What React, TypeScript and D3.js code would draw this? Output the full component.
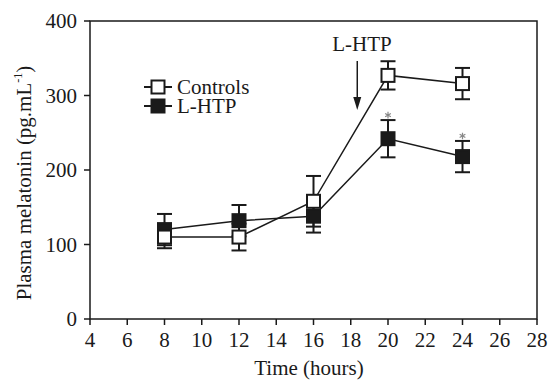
import React from "react";
import * as d3 from "d3";

const hours = [8, 12, 16, 20, 24];
const controlsMean = [110, 110, 158, 327, 316];
const controlsErr = [15, 18, 34, 19, 21];
const lhtpMean = [120, 132, 138, 242, 218];
const lhtpErr = [21, 21, 22, 25, 21];
const lhtpSignificant = [false, false, false, true, true];
const xTicks = [4, 6, 8, 10, 12, 14, 16, 18, 20, 22, 24, 26, 28];
const yTicks = [0, 100, 200, 300, 400];
const doseTime = 18.35;

const font = "'Liberation Serif', 'Times New Roman', serif";
const ink = "#1a1a1a";

const left = 90;
const right = 537;
const top = 21;
const bottom = 319;
const box = 15;

const ErrorBars = (props) => {
  const { means, errs, x, y } = props;
  return (
    <g stroke={ink} strokeWidth="2">
      {means.map((m, i) => {
        const cx = x(hours[i]);
        return (
          <g key={i}>
            <line x1={cx} x2={cx} y1={y(m - errs[i])} y2={y(m + errs[i])} />
            <line x1={cx - box / 2} x2={cx + box / 2} y1={y(m + errs[i])} y2={y(m + errs[i])} />
            <line x1={cx - box / 2} x2={cx + box / 2} y1={y(m - errs[i])} y2={y(m - errs[i])} />
          </g>
        );
      })}
    </g>
  );
};

const Squares = (props) => {
  const { means, fill, x, y } = props;
  return (
    <g>
      {means.map((m, i) => (
        <rect
          key={i}
          x={x(hours[i]) - (box - 2) / 2}
          y={y(m) - (box - 2) / 2}
          width={box - 2}
          height={box - 2}
          fill={fill}
          stroke={ink}
          strokeWidth="2"
        />
      ))}
    </g>
  );
};

export default function App() {
  const x = d3.scaleLinear().domain([4, 28]).range([left, right]);
  const y = d3.scaleLinear().domain([0, 400]).range([bottom, top]);

  const line = (means) =>
    d3
      .line<number>()
      .x((_, i) => x(hours[i]))
      .y((d) => y(d))(means);

  const star = d3.symbol(d3.symbolAsterisk, 30)();

  return (
    <svg
      width={553}
      height={381}
      style={{ position: "absolute", left: 0, top: 0, background: "#fff" }}
      fontFamily={font}
    >
      {/* frame */}
      <rect
        x={left}
        y={top}
        width={right - left}
        height={bottom - top}
        fill="none"
        stroke={ink}
        strokeWidth="1.5"
      />

      {/* x axis */}
      {xTicks.map((t) => (
        <g key={t} transform={`translate(${x(t)},0)`}>
          <line y1={bottom} y2={bottom + 6} stroke={ink} strokeWidth="1.5" />
          <text y={347} textAnchor="middle" fontSize="21" fill={ink}>
            {t}
          </text>
        </g>
      ))}
      <text x={309} y={375} textAnchor="middle" fontSize="21" fill={ink}>
        Time (hours)
      </text>

      {/* y axis */}
      {yTicks.map((t) => (
        <g key={t} transform={`translate(0,${y(t)})`}>
          <line x1={left - 6} x2={left} stroke={ink} strokeWidth="1.5" />
          <text x={77} dy="0.34em" textAnchor="end" fontSize="21" fill={ink}>
            {t}
          </text>
        </g>
      ))}
      <text
        transform="translate(31,183) rotate(-90)"
        textAnchor="middle"
        fontSize="21"
        fill={ink}
      >
        Plasma melatonin (pg.mL
        <tspan fontSize="12" dy="-9">-1</tspan>
        <tspan dy="9">)</tspan>
      </text>

      {/* data */}
      <ErrorBars means={lhtpMean} errs={lhtpErr} x={x} y={y} />
      <ErrorBars means={controlsMean} errs={controlsErr} x={x} y={y} />
      <path d={line(controlsMean)} fill="none" stroke={ink} strokeWidth="1.5" />
      <path d={line(lhtpMean)} fill="none" stroke={ink} strokeWidth="1.5" />
      <Squares means={lhtpMean} fill={ink} x={x} y={y} />
      <Squares means={controlsMean} fill="#fff" x={x} y={y} />

      {lhtpMean.map((m, i) =>
        lhtpSignificant[i] ? (
          <path
            key={i}
            d={star}
            transform={`translate(${x(hours[i])},${y(m + lhtpErr[i]) - 5})`}
            fill="none"
            stroke="#888"
            strokeWidth="1.2"
          />
        ) : null
      )}

      {/* dose arrow */}
      <text x={362} y={51} textAnchor="middle" fontSize="21" fill={ink}>
        L-HTP
      </text>
      <line x1={x(doseTime)} x2={x(doseTime)} y1={61} y2={100} stroke={ink} strokeWidth="1.5" />
      <path
        d={`M${x(doseTime) - 4},${97} L${x(doseTime) + 4},${97} L${x(doseTime)},${110} Z`}
        fill={ink}
      />

      {/* legend */}
      <g transform="translate(144,87)">
        <line x1={0} x2={28} stroke={ink} strokeWidth="2" />
        <rect x={7.5} y={-6.5} width={13} height={13} fill="#fff" stroke={ink} strokeWidth="2" />
        <text x={33} dy="0.34em" fontSize="21" fill={ink}>
          Controls
        </text>
      </g>
      <g transform="translate(144,106)">
        <line x1={0} x2={28} stroke={ink} strokeWidth="2" />
        <rect x={7.5} y={-6.5} width={13} height={13} fill={ink} stroke={ink} strokeWidth="2" />
        <text x={33} dy="0.34em" fontSize="21" fill={ink}>
          L-HTP
        </text>
      </g>
    </svg>
  );
}
